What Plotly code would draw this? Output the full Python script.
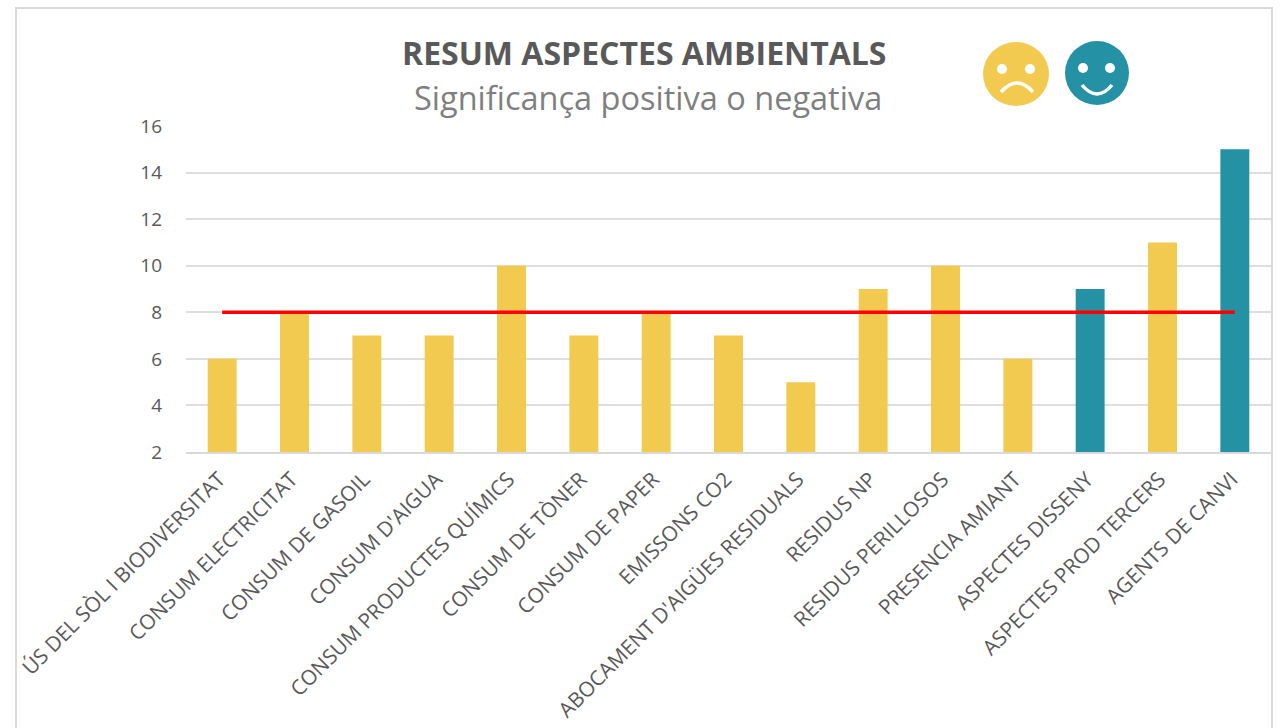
import plotly.graph_objects as go

categories = ["ÚS DEL SÒL I BIODIVERSITAT", "CONSUM ELECTRICITAT", "CONSUM DE GASOIL", "CONSUM D'AIGUA",
              "CONSUM PRODUCTES QUÍMICS", "CONSUM DE TÒNER", "CONSUM DE PAPER", "EMISSONS CO2",
              "ABOCAMENT D'AIGÜES RESIDUALS", "RESIDUS NP", "RESIDUS PERILLOSOS", "PRESENCIA AMIANT",
              "ASPECTES DISSENY", "ASPECTES PROD TERCERS", "AGENTS DE CANVI"]
values = [6, 8, 7, 7, 10, 7, 8, 7, 5, 9, 10, 6, 9, 11, 15]
threshold = [8] * 15
YEL = "#F2CA50"
TEAL = "#2591A5"
colors = [YEL] * 12 + [TEAL, YEL, TEAL]

W, H = 1281, 728
def px(v): return v / W
def py(v): return 1 - v / H

def circle(x0, x1, y0, y1, fill):
    return dict(type="circle", xref="paper", yref="paper", x0=px(x0), x1=px(x1), y0=py(y1), y1=py(y0),
                fillcolor=fill, line_width=0, layer="above")

def mouth(x0, ym, xc, yc, x1):
    return dict(type="path", xref="paper", yref="paper",
                path=f"M {px(x0)} {py(ym)} Q {px(xc)} {py(yc)} {px(x1)} {py(ym)}",
                line=dict(color="white", width=3.5), fillcolor="rgba(0,0,0,0)", layer="above")

fig = go.Figure()
fig.add_bar(x=categories, y=values, marker=dict(color=colors, line_width=0), width=0.4)
fig.add_scatter(x=categories, y=threshold, mode="lines", line=dict(color="#FF0000", width=3.5))

font = "Open Sans, Liberation Sans, sans-serif"
fig.update_layout(
    width=W, height=H, margin=dict(l=0, r=0, t=0, b=0, autoexpand=False), showlegend=False,
    paper_bgcolor="white", plot_bgcolor="white",
    font=dict(family=font, color="#595959"),
    xaxis=dict(domain=[px(186), px(1271)], tickangle=-45, tickfont=dict(size=20.8, color="#595959"),
               automargin=False, showgrid=False, showline=True, linecolor="#D9D9D9", linewidth=2,
               ticks="", ticklabelstandoff=5, ticklabelshift=-3),
    yaxis=dict(domain=[py(452), py(126)], range=[2, 16], dtick=2, tickfont=dict(size=19, color="#595959"),
               automargin=False, showgrid=True, gridcolor="#DEDEDE", gridwidth=2, zeroline=False, ticks="",
               ticklabelstandoff=23),
    annotations=[
        dict(text="<b>RESUM ASPECTES AMBIENTALS</b>", x=px(644), y=py(53), xref="paper", yref="paper",
             xanchor="center", yanchor="middle", showarrow=False, font=dict(size=32, color="#595959")),
        dict(text="Significança positiva o negativa", x=px(647.5), y=py(98), xref="paper", yref="paper",
             xanchor="center", yanchor="middle", showarrow=False, font=dict(size=32.5, color="#7F7F7F")),
    ],
    shapes=[
        dict(type="rect", xref="paper", yref="paper", x0=px(16), x1=px(1272), y0=-0.02, y1=py(8),
             line=dict(color="#D9D9D9", width=2), fillcolor="rgba(0,0,0,0)"),
        circle(983, 1049, 42, 106, YEL),
        circle(1065, 1129, 41, 105, TEAL),
        circle(997, 1007, 64, 74, "white"),
        circle(1025, 1035, 64, 74, "white"),
        circle(1078, 1088, 63, 73, "white"),
        circle(1105, 1115, 63, 73, "white"),
        mouth(1001, 92, 1017, 74, 1033),
        mouth(1082, 85, 1097, 103, 1112),
    ],
)
fig.write_html("out.html", config=dict(displayModeBar=False),
               post_script="document.body.style.margin='0';document.body.style.overflow='hidden';")
